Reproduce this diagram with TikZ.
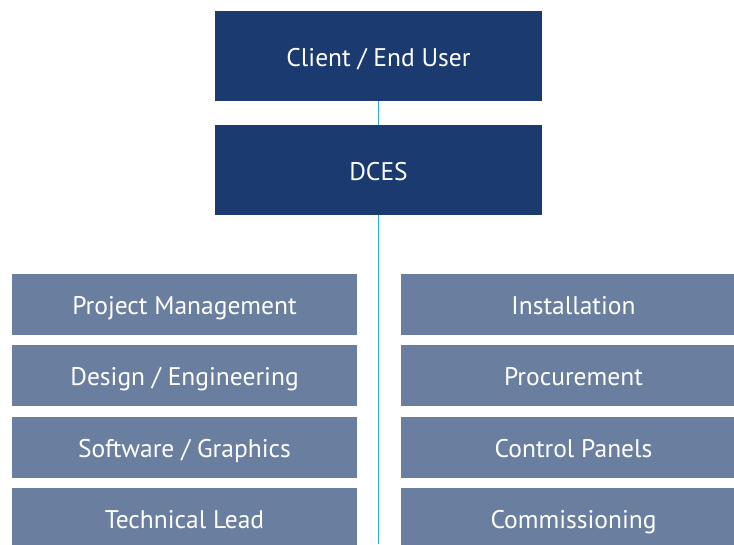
\documentclass[tikz,border=0pt]{standalone}
\usepackage{fontspec}
\setmainfont{PT Sans}
\definecolor{darkblue}{HTML}{1B3A6F}
\definecolor{greyblue}{HTML}{6A7FA0}
\definecolor{linkblue}{HTML}{2EA8DF}
\begin{document}
\begin{tikzpicture}[
    x=1pt, y=-1pt,
    every node/.style={text=white,font=\fontsize{25.5}{30}\selectfont,inner sep=0pt,
        text height=20pt,text depth=0pt},
    head/.style={fill=darkblue,minimum width=327pt,minimum height=90pt},
    dept/.style={fill=greyblue,minimum width=345pt,minimum height=61pt},
    link/.style={draw=linkblue,line width=1.2pt}
]
\useasboundingbox (0,0) rectangle (734,544);
\clip (0,0) rectangle (734,544);
\node[head] (client) at (378.5,56) {Client / End User};
\node[head] (dces) at (378.5,170) {DCES};
\coordinate (bottom) at (378.5,544);
\draw[link] (client) -- (dces);
\draw[link] (dces) -- (bottom);
% left column
\node[dept] (pm) at (184.5,304.5) {Project Management};
\node[dept] (design) at (184.5,375.5) {Design / Engineering};
\node[dept] (software) at (184.5,447.5) {Software / Graphics};
\node[dept] (lead) at (184.5,518.5) {Technical Lead};
% right column
\node[dept] (install) at (573.5,304.5) {Installation};
\node[dept] (procure) at (573.5,375.5) {Procurement};
\node[dept] (panels) at (573.5,447.5) {Control Panels};
\node[dept] (commission) at (573.5,518.5) {Commissioning};
\end{tikzpicture}
\end{document}
